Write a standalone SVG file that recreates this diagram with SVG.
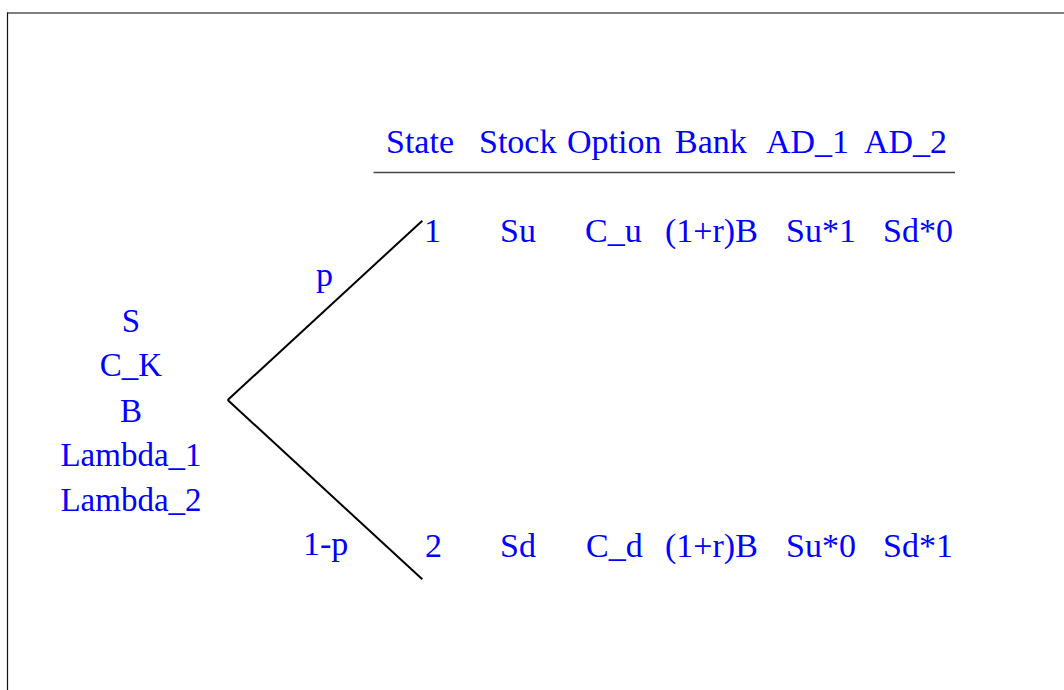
<svg xmlns="http://www.w3.org/2000/svg" width="1064" height="690" viewBox="0 0 1064 690">
<style>
text{font-family:"Liberation Serif","Times New Roman",serif;font-size:34px;fill:#0000ff}
.c{text-anchor:middle;font-size:33px}
.edge{stroke:#000;stroke-width:2;fill:none}
</style>
<rect width="1064" height="690" fill="#fff"/>
<g id="frame">
<line x1="7" y1="13" x2="1064" y2="13" stroke="#555" stroke-width="1.4"/>
<line x1="7.5" y1="12.5" x2="7.5" y2="690" stroke="#111" stroke-width="1.2"/>
</g>
<g id="connectors">
<line class="edge" x1="227.7" y1="400" x2="422.3" y2="220.7"/>
<line class="edge" x1="227.7" y1="400" x2="422.3" y2="579.3" stroke-width="1.8"/>
</g>
<g id="root">
<text class="c" x="131" y="332">S</text>
<text class="c" x="131" y="376">C_K</text>
<text class="c" x="131" y="421.5">B</text>
<text class="c" x="131" y="466">Lambda_1</text>
<text class="c" x="131" y="510.5">Lambda_2</text>
</g>
<g id="edge-labels">
<text x="316" y="286">p</text>
<text x="303" y="555">1-p</text>
</g>
<g id="header">
<text x="386" y="153.3">State</text>
<text x="479" y="153.3">Stock</text>
<text x="567" y="153.3">Option</text>
<text x="675" y="153.3">Bank</text>
<text x="766" y="153.3">AD_1</text>
<text x="864" y="153.3">AD_2</text>
<line x1="373.5" y1="172.5" x2="955" y2="172.5" stroke="#444" stroke-width="1.3"/>
</g>
<g id="state1">
<text x="424" y="241.7">1</text>
<text x="500" y="241.7">Su</text>
<text x="585" y="241.7">C_u</text>
<text x="665" y="241.7">(1+r)B</text>
<text x="786" y="241.7">Su*1</text>
<text x="883" y="241.7">Sd*0</text>
</g>
<g id="state2">
<text x="425" y="557.3">2</text>
<text x="500" y="557.3">Sd</text>
<text x="586" y="557.3">C_d</text>
<text x="665" y="557.3">(1+r)B</text>
<text x="786" y="557.3">Su*0</text>
<text x="883" y="557.3">Sd*1</text>
</g>
</svg>
